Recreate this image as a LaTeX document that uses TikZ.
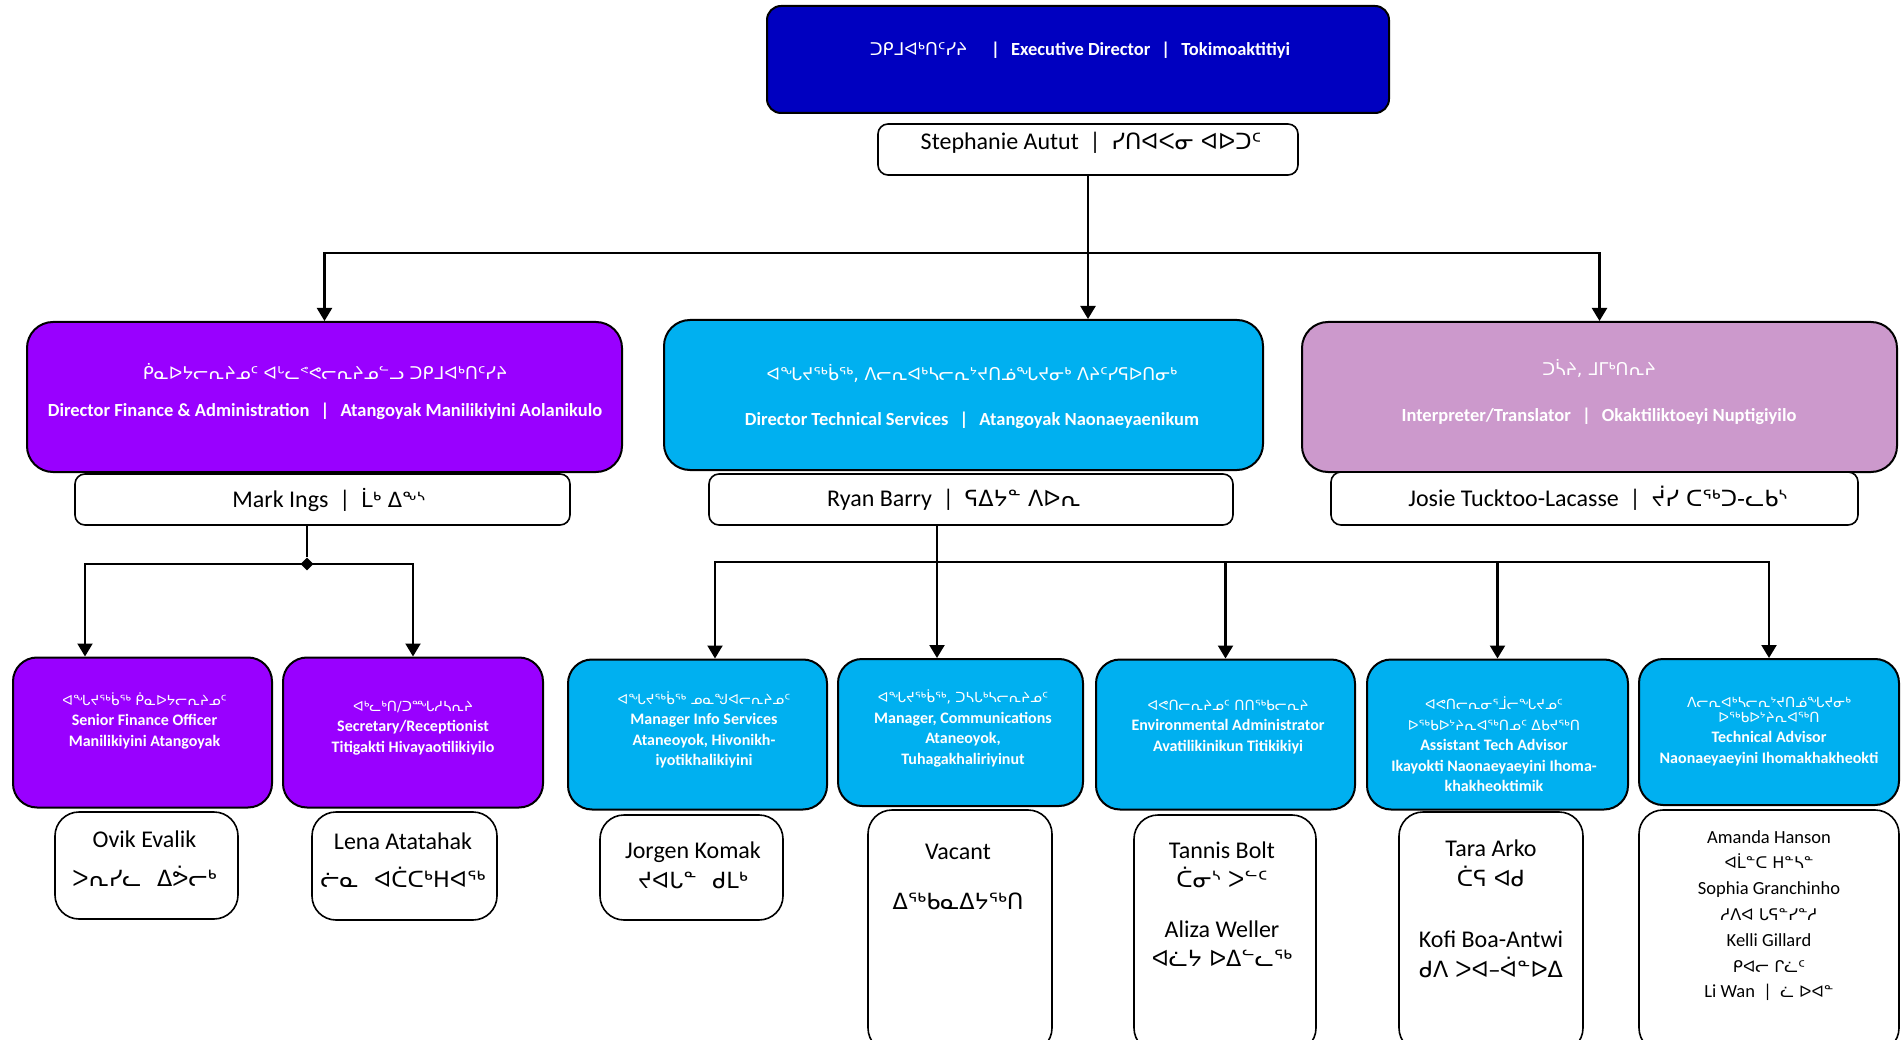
\documentclass[tikz,border=0pt]{standalone}
\usepackage{fontspec}
\setmainfont{Carlito}
\newfontfamily\syl[Scale=0.87]{DejaVu Sans}
\newfontfamily\sylname[Scale=0.93]{DejaVu Sans}
\newfontfamily\sylhead[Scale=0.95]{DejaVu Sans}
\usetikzlibrary{arrows.meta, shapes.geometric}
\definecolor{execblue}{RGB}{0,0,192}
\definecolor{finpurple}{RGB}{153,0,255}
\definecolor{techblue}{RGB}{0,176,240}
\definecolor{interplum}{RGB}{204,153,204}
\newcommand{\sy}[1]{{\syl\mdseries #1}}
\newcommand{\syn}[1]{{\sylname\mdseries #1}}
\newcommand{\syh}[1]{{\sylhead\mdseries #1}}
\tikzset{
    x=1pt, y=-1pt,
    execbox/.style={draw=black, line width=2pt, fill=execblue,
        rounded corners=14pt, minimum width=622pt, minimum height=107pt,
        inner sep=0pt},
    dirbox/.style={draw=black, line width=2pt, rounded corners=26pt,
        minimum width=595pt, minimum height=150pt, inner sep=0pt},
    namebar/.style={draw=black, line width=1.6pt, fill=white,
        rounded corners=10pt, minimum height=51pt, inner sep=0pt},
    rolebox/.style={draw=black, line width=2pt, rounded corners=24pt,
        minimum width=259pt, minimum height=150pt, inner sep=0pt},
    namecard/.style={draw=black, line width=1.6pt, fill=white,
        rounded corners=24pt, minimum width=183pt, inner sep=0pt},
    headtext/.style={text=white, align=center,
        font=\fontsize{18.5}{37}\selectfont\bfseries},
    roletext/.style={text=white, align=center,
        font=\fontsize{16}{20.5}\selectfont\bfseries},
    nametext/.style={align=center, font=\fontsize{24}{30}\selectfont},
    link/.style={line width=2.2pt},
    arrow/.style={line width=2.2pt, -{Triangle[length=13pt, width=15pt]}},
}

\begin{document}
\begin{tikzpicture}
    \useasboundingbox (0,0) rectangle (1904,1040);
    \clip (0,0) rectangle (1904,1040);

    % top
    \node[execbox] (exec) at (1078,59.5) {};
    \node[namebar, minimum width=420pt] (execname) at (1088,149.5) {};
    \node[headtext] (exec-t) at (1080,50)
        {\syh{ᑐᑭᒧᐊᒃᑎᑦᓯᔨ}\hspace{1.3em}|\hspace{0.6em}Executive Director\hspace{0.6em}|\hspace{0.6em}Tokimoaktitiyi};
    \node[nametext] (execname-t) at (1091,143)
        {Stephanie Autut \ | \ \syn{ᓯᑎᐊᐸᓂ ᐊᐅᑐᑦ}};

    % directors
    \node[dirbox, fill=finpurple] (findir) at (324.5,397) {};
    \node[dirbox, fill=techblue, minimum width=599pt] (techdir) at (963.5,395) {};
    \node[dirbox, fill=interplum] (interpdir) at (1599.5,397) {};
    \node[namebar, minimum width=495pt] (finname) at (322.5,499.5) {};
    \node[namebar, minimum width=524pt] (techname) at (971,499.5) {};
    \node[namebar, minimum width=527pt, minimum height=53pt] (interpname) at (1594.5,498.5) {};

    \node[headtext] (findir-t) at (325,391.5)
        {\syh{ᑮᓇᐅᔭᓕᕆᔨᓄᑦ ᐊᒡᓚᕝᕙᓕᕆᔨᓄᓪᓗ ᑐᑭᒧᐊᒃᑎᑦᓯᔨ}\\
        Director Finance \& Administration\hspace{0.6em}|\hspace{0.6em}Atangoyak Manilikiyini Aolanikulo};
    \node[headtext] (techdir-t) at (972,396.5)
        {\syh{ᐊᖓᔪᖅᑳᖅ, ᐱᓕᕆᐊᒃᓴᓕᕆᔾᔪᑎᓅᖓᔪᓂᒃ ᐱᔨᑦᓯᕋᐅᑎᓂᒃ}\\[8pt]
        Director Technical Services\hspace{0.6em}|\hspace{0.6em}Atangoyak Naonaeyaenikum};
    \node[headtext] (interpdir-t) at (1599,392)
        {\syh{ᑐᓵᔨ, ᒧᒥᒃᑎᕆᔨ}\\[9pt]
        Interpreter/Translator\hspace{0.6em}|\hspace{0.6em}Okaktiliktoeyi Nuptigiyilo};
    \node[nametext] (finname-t) at (329,500) {Mark Ings \ | \ \sy{ᒫᒃ ᐃᖕᔅ}};
    \node[nametext] (techname-t) at (954,500) {Ryan Barry \ | \ \syn{ᕋᐃᔭᓐ ᐱᐅᕆ}};
    \node[nametext] (interpname-t) at (1598,498)
        {Josie Tucktoo-Lacasse \ | \ \syn{ᔫᓯ ᑕᖅᑐ-ᓚᑲᔅ}};

    % staff
    \node[rolebox, fill=finpurple] (sfo) at (142.5,732.5) {};
    \node[rolebox, fill=finpurple, minimum width=260pt] (secr) at (413,732.5) {};
    \node[rolebox, fill=techblue] (info) at (697.5,734.5) {};
    \node[rolebox, fill=techblue, minimum width=245pt, minimum height=147pt] (comm) at (960.5,732.5) {};
    \node[rolebox, fill=techblue] (envadm) at (1225.5,734.5) {};
    \node[rolebox, fill=techblue, minimum width=261pt] (asst) at (1497.5,734.5) {};
    \node[rolebox, fill=techblue, minimum width=260pt, minimum height=146pt] (techadv) at (1769,732) {};

    \node[roletext] (sfo-t) at (144.5,720.5)
        {\sy{ᐊᖓᔪᖅᑳᖅ ᑮᓇᐅᔭᓕᕆᔨᓄᑦ}\\ Senior Finance Officer\\ Manilikiyini Atangoyak};
    \node[roletext] (secr-t) at (413,728)
        {\sy{ᐊᒃᓚᒃᑎ/ᑐᙵᓱᓴᕆᔨ}\\ Secretary/Receptionist\\ Titigakti Hivayaotilikiyilo};
    \node[roletext] (info-t) at (704,730)
        {\sy{ᐊᖓᔪᖅᑳᖅ ᓄᓇᖑᐊᓕᕆᔨᓄᑦ}\\ Manager Info Services\\ Ataneoyok, Hivonikh-\\ iyotikhalikiyini};
    \node[roletext] (comm-t) at (963,728.5)
        {\sy{ᐊᖓᔪᖅᑳᖅ, ᑐᓴᒐᒃᓴᓕᕆᔨᓄᑦ}\\ Manager, Communications\\ Ataneoyok,\\ Tuhagakhaliriyinut};
    \node[roletext] (envadm-t) at (1228,727)
        {\sy{ᐊᕙᑎᓕᕆᔨᓄᑦ ᑎᑎᖅᑲᓕᕆᔨ}\\ Environmental Administrator\\ Avatilikinikun Titikikiyi};
    \node[roletext] (asst-t) at (1494,744.5)
        {\sy{ᐊᕙᑎᓕᕆᓂᕐᒨᓕᖓᔪᓄᑦ}\\ \sy{ᐅᖅᑲᐅᔾᔨᕆᐊᖅᑎᓄᑦ ᐃᑲᔪᖅᑎ}\\ Assistant Tech Advisor\\
        Ikayokti Naonaeyaeyini Ihoma-\\ khakheoktimik};
    \node[roletext] (techadv-t) at (1769,731.5)
        {\sy{ᐱᓕᕆᐊᒃᓴᓕᕆᔾᔪᑎᓅᖓᔪᓂᒃ}\\[-6pt] \sy{ᐅᖅᑲᐅᔾᔨᕆᐊᖅᑎ}\\ Technical Advisor\\
        Naonaeyaeyini Ihomakhakheokti};

    % names
    \node[namecard, minimum height=107pt] (sfo-n) at (146.5,865.5) {};
    \node[namecard, minimum width=185pt, minimum height=108pt] (secr-n) at (404.5,866) {};
    \node[namecard, minimum height=105pt] (info-n) at (691.5,867.5) {};
    \node[namecard, minimum width=184pt, minimum height=242pt] (comm-n) at (960,931) {};
    \node[namecard, minimum width=182pt, minimum height=237pt] (envadm-n) at (1225,933.5) {};
    \node[namecard, minimum width=184pt, minimum height=240pt] (asst-n) at (1491,932) {};
    \node[namecard, minimum width=260pt, minimum height=242pt] (techadv-n) at (1769,931) {};

    \node[nametext] (sfo-nt) at (144.5,858.5) {Ovik Evalik\\[9pt] \syn{ᐳᕆᓯᓚ\hspace{0.7em}ᐃᕘᓕᒃ}};
    \node[nametext] (secr-nt) at (403,860) {Lena Atatahak\\[8pt] \syn{ᓖᓇ\hspace{0.7em}ᐊᑖᑕᒃᕼᐊᖅ}};
    \node[nametext] (info-nt) at (693,865) {Jorgen Komak\\ \syn{ᔪᐊᒐᓐ\hspace{0.7em}ᑯᒪᒃ}};
    \node[nametext] (comm-nt) at (958,877) {Vacant\\[20pt] \syn{ᐃᖅᑲᓇᐃᔭᖅᑎ}};
    \node[nametext, font=\fontsize{24}{28.5}\selectfont] (envadm-nt) at (1222,904)
        {Tannis Bolt\\ \syn{ᑖᓂᔅ ᐳᓪᑦ}\\[22pt] Aliza Weller\\ \syn{ᐊᓛᔭ ᐅᐃᓪᓚᖅ}};
    \node[nametext, font=\fontsize{24}{30.5}\selectfont] (asst-nt) at (1491,909)
        {Tara Arko\\ \syn{ᑖᕋ ᐊᑯ}\\[30pt] Kofi Boa-Antwi\\ \syn{ᑯᐱ ᐳᐊ–ᐋᓐᐅᐃ}};
    \node[nametext, font=\fontsize{18.5}{25.8}\selectfont] (techadv-nt) at (1769,915.5)
        {Amanda Hanson\\ \sy{ᐊᒫᓐᑕ ᕼᓐᓴᓐ}\\ Sophia Granchinho\\ \sy{ᓱᐱᐊ ᒐᕋᓐᓯᓐᓱ}\\
        Kelli Gillard\\ \sy{ᑭᐊᓕ ᒋᓛᑦ}\\ Li Wan \ | \ \sy{ᓛ ᐅᐊᓐ}};

    % connectors
    \coordinate (topsplit) at (1088,253);
    \draw[link] (execname.south) -- (topsplit);
    \draw[arrow] (topsplit) -| (findir.north);
    \draw[arrow] (topsplit) -- (topsplit |- techdir.north);
    \draw[arrow] (topsplit) -| (interpdir.north);

    \node[diamond, fill=black, inner sep=0pt, minimum size=13pt] (finsplit) at (307,564) {};
    \draw[link] (finsplit |- finname.south) -- (finsplit);
    \draw[arrow] (finsplit.center) -| ([xshift=-57.5pt]sfo.north);
    \draw[arrow] (finsplit.center) -| (secr.north);

    \coordinate (techsplit) at (937,562);
    \draw[arrow] (techsplit |- techname.south) -- ([xshift=-23.5pt]comm.north);
    \draw[arrow] (techsplit) -| ([xshift=17.5pt]info.north);
    \draw[arrow] (techsplit) -| (envadm.north);
    \draw[arrow] (techsplit) -| (asst.north);
    \draw[arrow] (techsplit) -| (techadv.north);
\end{tikzpicture}
\end{document}
